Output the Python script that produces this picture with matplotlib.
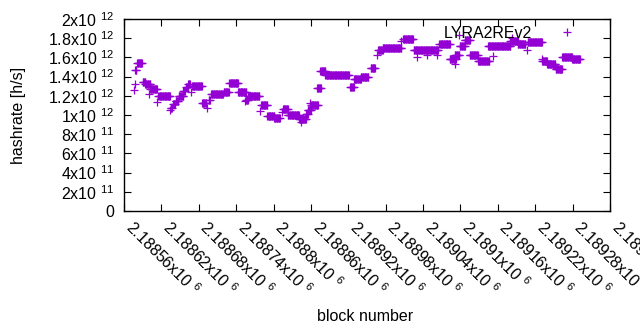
import numpy as np
import matplotlib
matplotlib.use("Agg")
import matplotlib.pyplot as plt

plt.rcParams['font.family'] = ['Liberation Sans', 'DejaVu Sans']
plt.rcParams['mathtext.default'] = 'regular'

# runs of equal hashrate: first block, last block, hashrate (x1e12 h/s)
run_start = [2188576, 2188578, 2188578, 2188581, 2188590, 2188594, 2188602, 2188600, 2188613,
             2188615, 2188634, 2188635, 2188639, 2188643, 2188648, 2188655, 2188660, 2188663,
             2188668, 2188669, 2188685, 2188693, 2188696, 2188700, 2188720, 2188729, 2188743,
             2188754, 2188756, 2188759, 2188780, 2188778, 2188790, 2188801, 2188811, 2188813,
             2188815, 2188823, 2188841, 2188844, 2188852, 2188855, 2188859, 2188860, 2188870,
             2188875, 2188883, 2188923, 2188929, 2188940, 2188956, 2188966, 2188968, 2188975,
             2189005, 2189008, 2189025, 2189030, 2189046, 2189062, 2189066, 2189083, 2189091,
             2189091, 2189098, 2189099, 2189107, 2189115, 2189128, 2189144, 2189152, 2189180,
             2189183, 2189192, 2189207, 2189208, 2189231, 2189231, 2189239, 2189255, 2189253,
             2189263, 2189279]
run_end = [2188576, 2188578, 2188580, 2188589, 2188594, 2188602, 2188613, 2188600, 2188613,
           2188634, 2188634, 2188637, 2188642, 2188647, 2188655, 2188658, 2188663, 2188666,
           2188668, 2188685, 2188692, 2188693, 2188698, 2188719, 2188728, 2188743, 2188756,
           2188754, 2188759, 2188777, 2188790, 2188778, 2188801, 2188809, 2188811, 2188813,
           2188823, 2188841, 2188852, 2188844, 2188855, 2188860, 2188859, 2188871, 2188876,
           2188883, 2188921, 2188929, 2188940, 2188952, 2188963, 2188966, 2188975, 2189005,
           2189005, 2189024, 2189064, 2189030, 2189046, 2189062, 2189083, 2189093, 2189091,
           2189098, 2189098, 2189107, 2189115, 2189128, 2189146, 2189180, 2189152, 2189192,
           2189183, 2189204, 2189207, 2189231, 2189231, 2189239, 2189252, 2189255, 2189263,
           2189279, 2189292]
run_value = [1.26, 1.32, 1.47, 1.54, 1.34, 1.32, 1.27, 1.22, 1.14,
             1.20, 1.05, 1.07, 1.11, 1.15, 1.20, 1.25, 1.29, 1.32,
             1.24, 1.30, 1.12, 1.07, 1.16, 1.22, 1.24, 1.33, 1.24,
             1.15, 1.16, 1.20, 1.10, 1.04, 0.99, 0.97, 0.97, 1.03,
             1.06, 1.00, 0.96, 0.93, 1.01, 1.05, 1.12, 1.10, 1.28,
             1.46, 1.42, 1.29, 1.37, 1.40, 1.49, 1.63, 1.68, 1.70,
             1.77, 1.79, 1.68, 1.60, 1.62, 1.62, 1.74, 1.58, 1.53,
             1.63, 1.83, 1.72, 1.78, 1.62, 1.56, 1.72, 1.61, 1.77,
             1.80, 1.74, 1.68, 1.76, 1.58, 1.56, 1.53, 1.49, 1.48,
             1.60, 1.58]

x_ticks = [2188560 + 60 * i for i in range(14)]
y_ticks = [0, 2e11, 4e11, 6e11, 8e11, 1e12, 1.2e12, 1.4e12, 1.6e12, 1.8e12, 2e12]
y_tick_labels = ['0', '2x10 $^{11}$', '4x10 $^{11}$', '6x10 $^{11}$', '8x10 $^{11}$',
                 '1x10 $^{12}$', '1.2x10 $^{12}$', '1.4x10 $^{12}$', '1.6x10 $^{12}$',
                 '1.8x10 $^{12}$', '2x10 $^{12}$']
x_tick_labels = ['2.18856x10 $^{6}$', '2.18862x10 $^{6}$', '2.18868x10 $^{6}$', '2.18874x10 $^{6}$',
                 '2.1888x10 $^{6}$', '2.18886x10 $^{6}$', '2.18892x10 $^{6}$', '2.18898x10 $^{6}$',
                 '2.18904x10 $^{6}$', '2.1891x10 $^{6}$', '2.18916x10 $^{6}$', '2.18922x10 $^{6}$',
                 '2.18928x10 $^{6}$', '2.18934x10 $^{6}$']

blocks = []
rates = []
for s, e, v in zip(run_start, run_end, run_value):
    for b in range(s, e + 1):
        blocks.append(b)
        rates.append(v * 1e12)

color = '#9400d3'
fig = plt.figure(figsize=(6.4, 3.3), dpi=100)
ax = fig.add_axes([124 / 640, 1 - 211 / 330, (610 - 124) / 640, (211 - 19) / 330])
ax.plot(blocks, rates, linestyle='none', marker='+', markersize=5.6, markeredgewidth=0.9,
        color=color, label='LYRA2REv2')

ax.set_xlim(x_ticks[0], x_ticks[-1])
ax.set_ylim(0, 2e12)
ax.set_xticks(x_ticks)
ax.set_xticklabels(x_tick_labels, rotation=-45, ha='left', va='baseline', rotation_mode='anchor',
                   fontsize=11.5)
ax.set_yticks(y_ticks)
ax.set_yticklabels(y_tick_labels, fontsize=11.5)
ax.tick_params(direction='in', length=5, width=0.8, top=True, right=True, pad=7)
ax.tick_params(axis='x', pad=12.8)
for sp in ax.spines.values():
    sp.set_linewidth(1.0)

ax.set_ylabel('hashrate [h/s]', fontsize=11.5)
ax.set_xlabel('block number', fontsize=11.5)
ax.xaxis.set_label_coords(0.496, -0.51)
ax.yaxis.set_label_coords(-0.202, 0.5)

leg = ax.legend(loc='upper right', bbox_to_anchor=(0.958, 0.997), frameon=False,
                markerfirst=False, fontsize=11.5, handlelength=2.0, handletextpad=1.2,
                borderaxespad=0.0)

fig.savefig('out.png', dpi=100)
